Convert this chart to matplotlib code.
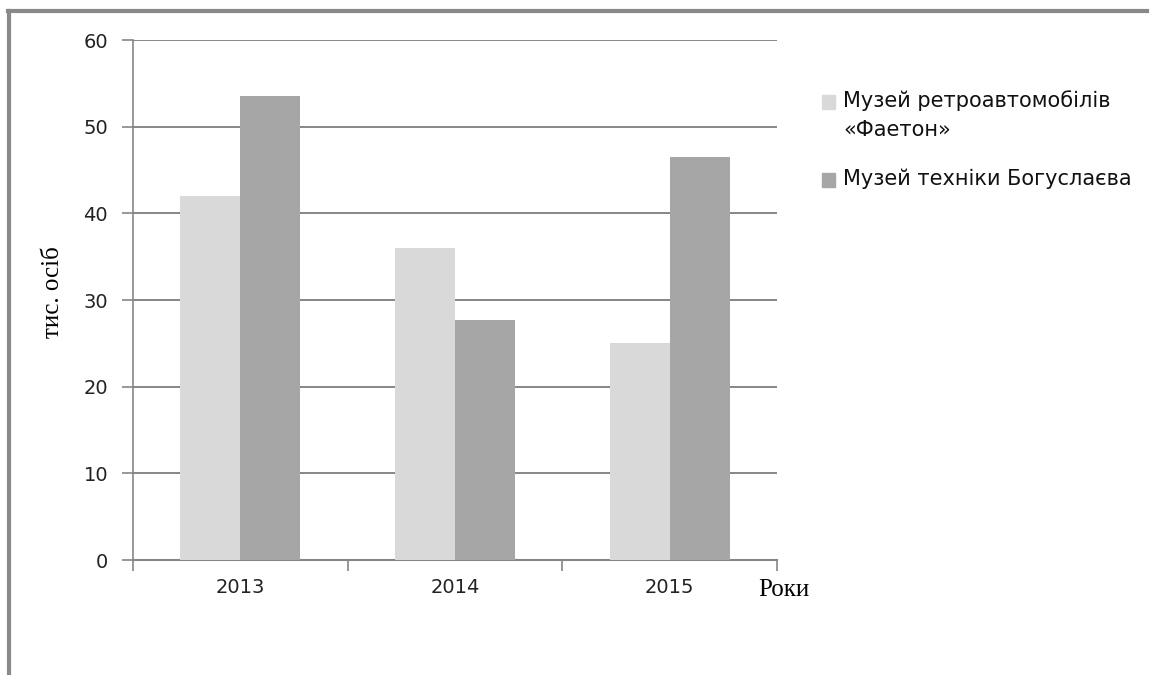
import matplotlib.pyplot as plt
import numpy as np
from matplotlib.patches import Rectangle
from matplotlib.lines import Line2D

years = ['2013', '2014', '2015']
series_names = ['Музей ретроавтомобілів\n«Фаетон»', 'Музей техніки Богуслаєва']
faeton = [42, 36, 25]
boguslaev = [53.5, 27.7, 46.5]
colors = ['#d9d9d9', '#a6a6a6']

plt.rcParams['font.family'] = 'DejaVu Sans'

fig = plt.figure(figsize=(11.52, 6.75), dpi=100)
ax = fig.add_axes([133 / 1152, 115 / 675, 644 / 1152, 520 / 675])

x = np.arange(len(years))
w = 0.28
ax.bar(x - w / 2, faeton, w, color=colors[0], zorder=3)
ax.bar(x + w / 2, boguslaev, w, color=colors[1], zorder=3)

ax.set_xlim(-0.5, 2.5)
ax.set_ylim(0, 60)
ax.set_yticks(range(0, 61, 10))
ax.yaxis.grid(True, color='#868686', linewidth=1.4, zorder=0)
ax.set_axisbelow(True)

for s in ['top', 'right']:
    ax.spines[s].set_visible(False)
ax.spines['left'].set_color('#868686')
ax.spines['bottom'].set_color('#868686')
ax.spines['left'].set_linewidth(1.2)
ax.spines['bottom'].set_linewidth(1.5)

# category labels at centres, ticks at category borders
ax.set_xticks([-0.5, 0.5, 1.5, 2.5])
ax.set_xticklabels([])
ax.tick_params(axis='x', length=8, color='#868686', width=1.2)
for i, y in enumerate(years):
    ax.text(i, -3.2, y, ha='center', va='center', fontsize=14, color='#222222')
ax.tick_params(axis='y', length=8, color='#868686', width=1.2, labelsize=14,
               labelcolor='#222222', pad=10)

fig.text(53 / 1152, 1 - 292 / 675, 'тис. осіб', rotation=90, ha='center', va='center',
         fontsize=18, family='Liberation Serif')
fig.text(784 / 1152, 1 - 590 / 675, 'Роки', ha='center', va='center',
         fontsize=18, family='Liberation Serif')

# legend
leg_y = [102, 180]
for name, c, yy in zip(series_names, colors, leg_y):
    fig.patches.append(Rectangle((822 / 1152, 1 - (yy + 6.5) / 675), 13 / 1152, 13 / 675,
                                 transform=fig.transFigure, color=c, figure=fig))
    fig.text(843 / 1152, 1 - (yy - 12) / 675, name, ha='left', va='top',
             fontsize=15, color='#111111', linespacing=1.55)

# outer frame
fig.lines.append(Line2D([8 / 1152, 1147 / 1152], [1 - 11 / 675, 1 - 11 / 675],
                        transform=fig.transFigure, color='#898989', linewidth=3))
fig.lines.append(Line2D([9 / 1152, 9 / 1152], [0, 1 - 11 / 675],
                        transform=fig.transFigure, color='#898989', linewidth=3))

fig.savefig('out.png', dpi=100)
